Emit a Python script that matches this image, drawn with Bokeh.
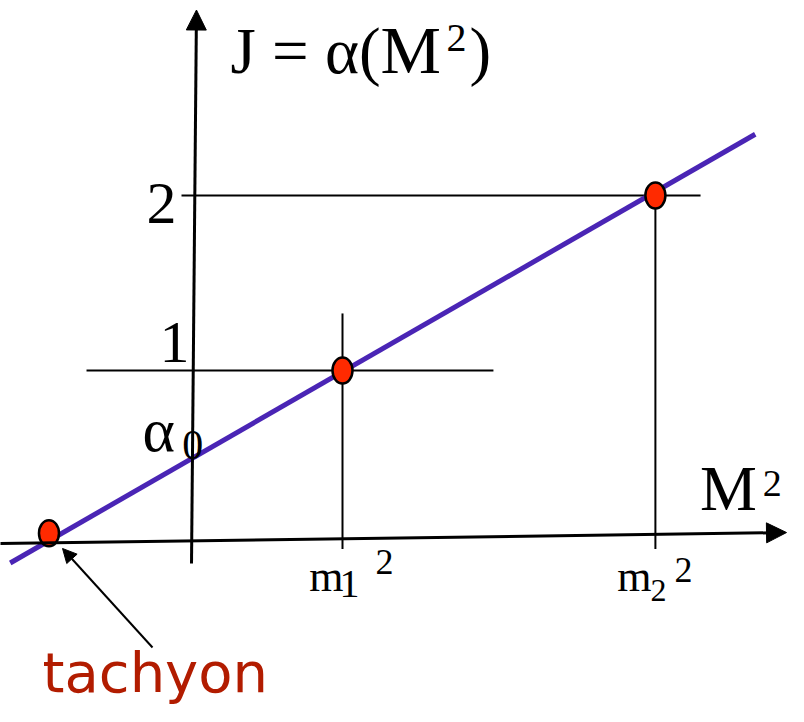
from bokeh.plotting import figure
from bokeh.models import Arrow, NormalHead, Label, ColumnDataSource
from bokeh.embed import file_html
from bokeh.resources import INLINE

# ---- data (M^2 on x, J on y) ----
m_sq_values = [1.0, 3.10]          # m1^2, m2^2
J_levels = [1, 2]
alpha0 = 0.50                       # intercept alpha(0)
regge_x = [-1.23, 3.77]             # ends of the drawn Regge trajectory
regge_J = [-0.10, 2.35]
dot_x = [-0.97, 1.0, 3.10]          # tachyon, state 1, state 2
dot_J = [0.07, 1.0, 2.0]
J_tick_labels = ["1", "2"]
m_labels = ["m", "m"]
m_subscripts = ["1", "2"]

PX_X, PX_Y = 149.0, 175.0  # sketch pixels per data unit
W, H = 788, 706
X0, X1 = -193 / PX_X, (W - 193) / PX_X
Y0, Y1 = (545 - H) / PX_Y, 545 / PX_Y

p = figure(width=W, height=H, x_range=(X0, X1), y_range=(Y0, Y1),
           output_backend="svg", toolbar_location=None, min_border=0,
           x_axis_location=None, y_axis_location=None)
p.grid.visible = False
p.outline_line_color = None
p.background_fill_color = "white"
p.border_fill_color = "white"

serif = "Liberation Serif"

# guide lines for J levels
p.segment(x0=[-0.718, -0.0805], y0=J_levels, x1=[2.013, 3.403], y1=J_levels,
          line_color="black", line_width=2)
# vertical lines at m^2 values
p.segment(x0=m_sq_values, y0=[1.326, 2.0], x1=m_sq_values, y1=[-0.02, -0.02],
          line_color="black", line_width=2)

# M^2 axis (slightly tilted like the sketch) with arrow
p.add_layout(Arrow(end=NormalHead(size=20, fill_color="black", line_color="black"),
                   x_start=-1.30, y_start=0.011, x_end=3.98, y_end=0.074,
                   line_color="black", line_width=3))
# J axis with arrow
p.add_layout(Arrow(end=NormalHead(size=20, fill_color="black", line_color="black"),
                   x_start=-0.0134, y_start=-0.103, x_end=0.020, y_end=3.06,
                   line_color="black", line_width=3))

# Regge trajectory
p.line(regge_x, regge_J, line_color="#4a25b5", line_width=5)

# states
src = ColumnDataSource(dict(x=dot_x, y=dot_J))
p.ellipse(x="x", y="y", width=20, height=26, width_units="screen",
          height_units="screen", source=src, fill_color="#ff2a00",
          line_color="black", line_width=2.5)

# tachyon pointer
p.add_layout(Arrow(end=NormalHead(size=14, fill_color="black", line_color="black"),
                   x_start=-0.275, y_start=-0.583, x_end=-0.879, y_end=-0.017,
                   line_color="black", line_width=2))

def lab(x, y, text, size, align="left", font=serif, color="black"):
    y_adj = y + 0.375 * size / PX_Y   # compensate baseline placement
    p.add_layout(Label(x=x, y=y_adj, text=text, text_font=font,
                       text_font_size=f"{size}px", text_align=align,
                       text_baseline="alphabetic", text_color=color))

# title  J = α(M²)
lab(0.248, 2.686, "J = α(", 65)
lab(1.255, 2.686, "M", 68)
lab(1.698, 2.817, "2", 40)
lab(1.852, 2.686, ")", 65)
# J tick labels
lab(-0.027, 1.034, J_tick_labels[0], 60, "right")
lab(-0.114, 1.823, J_tick_labels[1], 60, "right")
# alpha_0
lab(-0.342, 0.526, "α", 62)
lab(-0.075, 0.486, "0", 42)
# M^2 axis label
lab(3.40, 0.189, "M", 64)
lab(3.820, 0.274, "2", 38)
# m1^2
lab(1.007, -0.269, m_labels[0], 44, "right")
lab(0.980, -0.303, m_subscripts[0], 40)
lab(1.222, -0.171, "2", 36)
# m2^2
lab(3.074, -0.274, m_labels[1], 44, "right")
lab(3.067, -0.326, m_subscripts[1], 32)
lab(3.228, -0.217, "2", 36)
# tachyon
lab(-1.013, -0.846, "tachyon", 56, font="DejaVu Sans", color="#b21c00")

open("out.html", "w").write(file_html(p, INLINE))
